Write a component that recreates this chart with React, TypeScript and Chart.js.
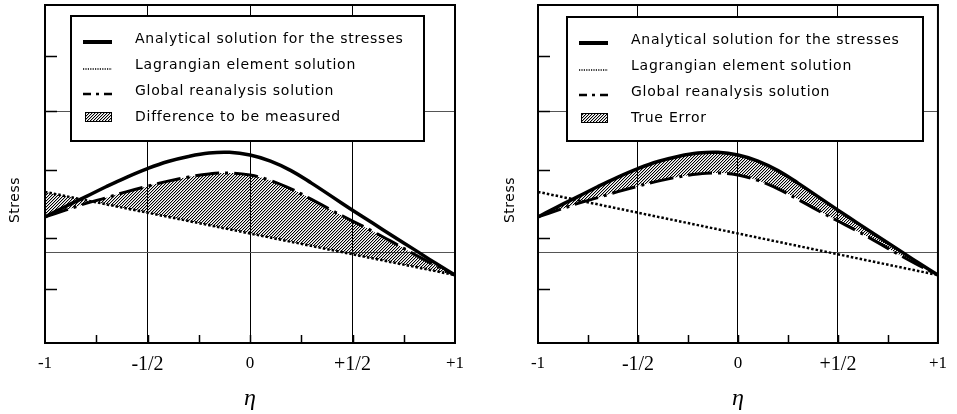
import React, { useEffect, useRef } from 'react';
import { Chart, registerables } from 'chart.js';

Chart.register(...registerables);

// ---- data (arbitrary stress units) ----
const eta = [-1, -0.9, -0.8, -0.7, -0.6, -0.5, -0.4, -0.3, -0.2, -0.1, 0, 0.1, 0.2, 0.3, 0.4, 0.5, 0.6, 0.7, 0.8, 0.9, 1];
const analytical = [3.73, 4.04, 4.33, 4.63, 4.91, 5.16, 5.37, 5.52, 5.62, 5.64, 5.56, 5.38, 5.1, 4.73, 4.33, 3.93, 3.54, 3.15, 2.77, 2.38, 2.01];
const globalReanalysis = [3.73, 3.93, 4.13, 4.3, 4.48, 4.64, 4.79, 4.91, 5.0, 5.03, 4.97, 4.81, 4.56, 4.25, 3.92, 3.61, 3.3, 2.97, 2.63, 2.31, 2.01];
const lagrangianEta = [-1, 0, 1];
const lagrangian = [4.47, 3.24, 2.01];

const seriesLabels = ['Analytical solution for the stresses', 'Lagrangian element solution', 'Global reanalysis solution'];
const fillLabels = ['Difference to be measured', 'True Error'];
const yAxisTitle = 'Stress';
const xAxisTitle = 'η';

const xTickValues = [-1, -0.5, 0, 0.5, 1];
const xTickLabels = ['-1', '-1/2', '0', '+1/2', '+1'];
const xMarkValues = [-0.75, -0.5, -0.25, 0, 0.25, 0.5, 0.75];
const yGridValues = [2.69, 6.86];
const yMarkValues = [1.6, 3.11, 5.12, 6.86, 8.49];

const SANS = '"DejaVu Sans", sans-serif';
const SERIF = '"Liberation Serif", serif';

function makeHatch(): CanvasPattern | string {
  const c = document.createElement('canvas');
  const n = 3;
  c.width = n;
  c.height = n;
  const g = c.getContext('2d');
  if (!g) return '#888';
  const img = g.createImageData(n, n);
  for (let y = 0; y < n; y++) {
    for (let x = 0; x < n; x++) {
      const i = (y * n + x) * 4;
      const k = (x + y) % n;
      img.data[i] = 0;
      img.data[i + 1] = 0;
      img.data[i + 2] = 0;
      img.data[i + 3] = k === 0 ? 255 : k === 1 ? 70 : 0;
    }
  }
  g.putImageData(img, 0, 0);
  const p = g.createPattern(c, 'repeat');
  return p || '#888';
}

const decorPlugin = {
  id: 'panelDecor',
  afterDraw(chart: any, _args: any, opts: any) {
    const { ctx, chartArea: ca } = chart;
    const xs = chart.scales.x;
    const ys = chart.scales.y;
    ctx.save();
    ctx.strokeStyle = '#000';
    ctx.setLineDash([]);
    // inner tick marks
    ctx.lineWidth = 1.5;
    ctx.beginPath();
    for (const v of xMarkValues) {
      const px = Math.round(xs.getPixelForValue(v)) + 0.5;
      ctx.moveTo(px, ca.bottom);
      ctx.lineTo(px, ca.bottom - 8);
    }
    for (const v of yMarkValues) {
      const py = Math.round(ys.getPixelForValue(v)) + 0.5;
      ctx.moveTo(ca.left, py);
      ctx.lineTo(ca.left + 12, py);
    }
    ctx.stroke();
    // frame
    ctx.lineWidth = 2;
    ctx.strokeRect(ca.left, ca.top, ca.right - ca.left, ca.bottom - ca.top);

    // y-axis title
    ctx.save();
    ctx.translate(ca.left + opts.titleDx, (ca.top + ca.bottom) / 2 + 26);
    ctx.rotate(-Math.PI / 2);
    ctx.fillStyle = '#000';
    ctx.font = '14px ' + SANS;
    try { (ctx as any).letterSpacing = '0.5px'; } catch (e) { /* ignore */ }
    ctx.textAlign = 'center';
    ctx.textBaseline = 'middle';
    ctx.fillText(yAxisTitle, 0, 0);
    ctx.restore();

    // legend
    const lb = opts.legendBox;
    const bx = ca.left + lb.dx;
    const by = ca.top + lb.dy;
    ctx.fillStyle = '#fff';
    ctx.fillRect(bx, by, lb.w, lb.h);
    ctx.lineWidth = 2;
    ctx.strokeRect(bx, by, lb.w, lb.h);
    const labels = chart.data.datasets.map((d: any) => d.label).concat([opts.fillLabel]);
    const sx0 = bx + 12;
    const sx1 = bx + 41;
    labels.forEach((lab: string, i: number) => {
      const base = by + 27 + i * 26;
      ctx.strokeStyle = '#000';
      ctx.beginPath();
      if (i === 0) {
        ctx.setLineDash([]);
        ctx.lineWidth = 4;
        ctx.moveTo(sx0, base - 1);
        ctx.lineTo(sx1, base - 1);
        ctx.stroke();
      } else if (i === 1) {
        ctx.setLineDash([1.2, 1.2]);
        ctx.lineWidth = 1.5;
        ctx.moveTo(sx0, base);
        ctx.lineTo(sx1, base);
        ctx.stroke();
      } else if (i === 2) {
        ctx.setLineDash([8, 5, 3, 5]);
        ctx.lineWidth = 2.5;
        ctx.moveTo(sx0, base - 1);
        ctx.lineTo(sx1, base - 1);
        ctx.stroke();
      } else {
        ctx.setLineDash([]);
        const ds = chart.data.datasets[2];
        ctx.fillStyle = ds.backgroundColor;
        ctx.fillRect(sx0 + 2, base - 9, 27, 10);
        ctx.lineWidth = 1;
        ctx.strokeRect(sx0 + 2.5, base - 8.5, 26, 9);
      }
      ctx.setLineDash([]);
      ctx.fillStyle = '#000';
      ctx.font = '14px ' + SANS;
      try { (ctx as any).letterSpacing = '0.75px'; } catch (e) { /* ignore */ }
      ctx.textBaseline = 'alphabetic';
      ctx.textAlign = 'left';
      ctx.fillText(lab, bx + 64, base);
      try { (ctx as any).letterSpacing = '0px'; } catch (e) { /* ignore */ }
    });
    ctx.restore();
  },
};

function makeConfig(panel: number): any {
  const hatch = makeHatch();
  const fillTarget = panel === 0 ? 1 : 0;
  const padding = panel === 0 ? { left: 0, right: 25, top: 5, bottom: 0 } : { left: 13, right: 9, top: 5, bottom: 0 };
  const legendBox = panel === 0 ? { dx: 26, dy: 11, w: 353, h: 125 } : { dx: 29, dy: 12, w: 356, h: 124 };
  return {
    type: 'line',
    data: {
      datasets: [
        {
          label: seriesLabels[0],
          data: eta.map((x, i) => ({ x, y: analytical[i] })),
          borderColor: '#000',
          borderWidth: 3.5,
          pointRadius: 0,
          tension: 0.4,
          fill: false,
        },
        {
          label: seriesLabels[1],
          data: lagrangianEta.map((x, i) => ({ x, y: lagrangian[i] })),
          borderColor: '#000',
          borderWidth: 2.5,
          borderDash: [2.5, 2],
          pointRadius: 0,
          tension: 0,
          fill: false,
        },
        {
          label: seriesLabels[2],
          data: eta.map((x, i) => ({ x, y: globalReanalysis[i] })),
          borderColor: '#000',
          borderWidth: 3,
          borderDash: [24, 6, 3, 6],
          pointRadius: 0,
          tension: 0.4,
          fill: fillTarget,
          backgroundColor: hatch,
        },
      ],
    },
    options: {
      responsive: false,
      animation: false,
      events: [],
      layout: { padding },
      plugins: {
        legend: { display: false },
        tooltip: { enabled: false },
        panelDecor: { legendBox, fillLabel: fillLabels[panel], titleDx: panel === 0 ? -30 : -28 },
      },
      scales: {
        x: {
          type: 'linear',
          min: -1,
          max: 1,
          afterBuildTicks: (s: any) => {
            s.ticks = xTickValues.map((v) => ({ value: v }));
          },
          afterFit: (s: any) => {
            s.height = 71;
          },
          grid: {
            color: (c: any) => (c.tick && Math.abs(c.tick.value) < 0.99 ? '#000' : 'rgba(0,0,0,0)'),
            lineWidth: 1,
            drawTicks: false,
          },
          border: { display: false },
          ticks: {
            autoSkip: false,
            maxRotation: 0,
            padding: 10,
            color: '#000',
            callback: (_v: any, i: number) => xTickLabels[i],
            font: (c: any) => ({ family: SERIF, size: xTickLabels[c.index] && xTickLabels[c.index].includes('/') ? 20 : 17 }),
          },
          title: {
            display: true,
            text: xAxisTitle,
            color: '#000',
            font: { family: SERIF, size: 24, style: 'italic' },
            padding: { top: 0, bottom: 1 },
          },
        },
        y: {
          type: 'linear',
          min: 0,
          max: 10,
          afterBuildTicks: (s: any) => {
            s.ticks = yGridValues.map((v) => ({ value: v }));
          },
          afterFit: (s: any) => {
            s.width = 45;
          },
          grid: { color: '#555', lineWidth: 1, drawTicks: false },
          border: { display: false },
          ticks: { display: false },
          title: { display: false },
        },
      },
    },
    plugins: [decorPlugin],
  };
}

function Panel({ panel, width }: { panel: number; width: number }) {
  const ref = useRef<HTMLCanvasElement>(null);
  useEffect(() => {
    if (!ref.current) return;
    const chart = new Chart(ref.current, makeConfig(panel));
    return () => chart.destroy();
  }, [panel]);
  return <canvas ref={ref} width={width} height={414} style={{ display: 'block', width, height: 414 }} />;
}

export default function App() {
  return (
    <div style={{ position: 'absolute', left: 0, top: 0, width: 957, height: 414, display: 'flex', background: '#fff' }}>
      <Panel panel={0} width={480} />
      <Panel panel={1} width={477} />
    </div>
  );
}
